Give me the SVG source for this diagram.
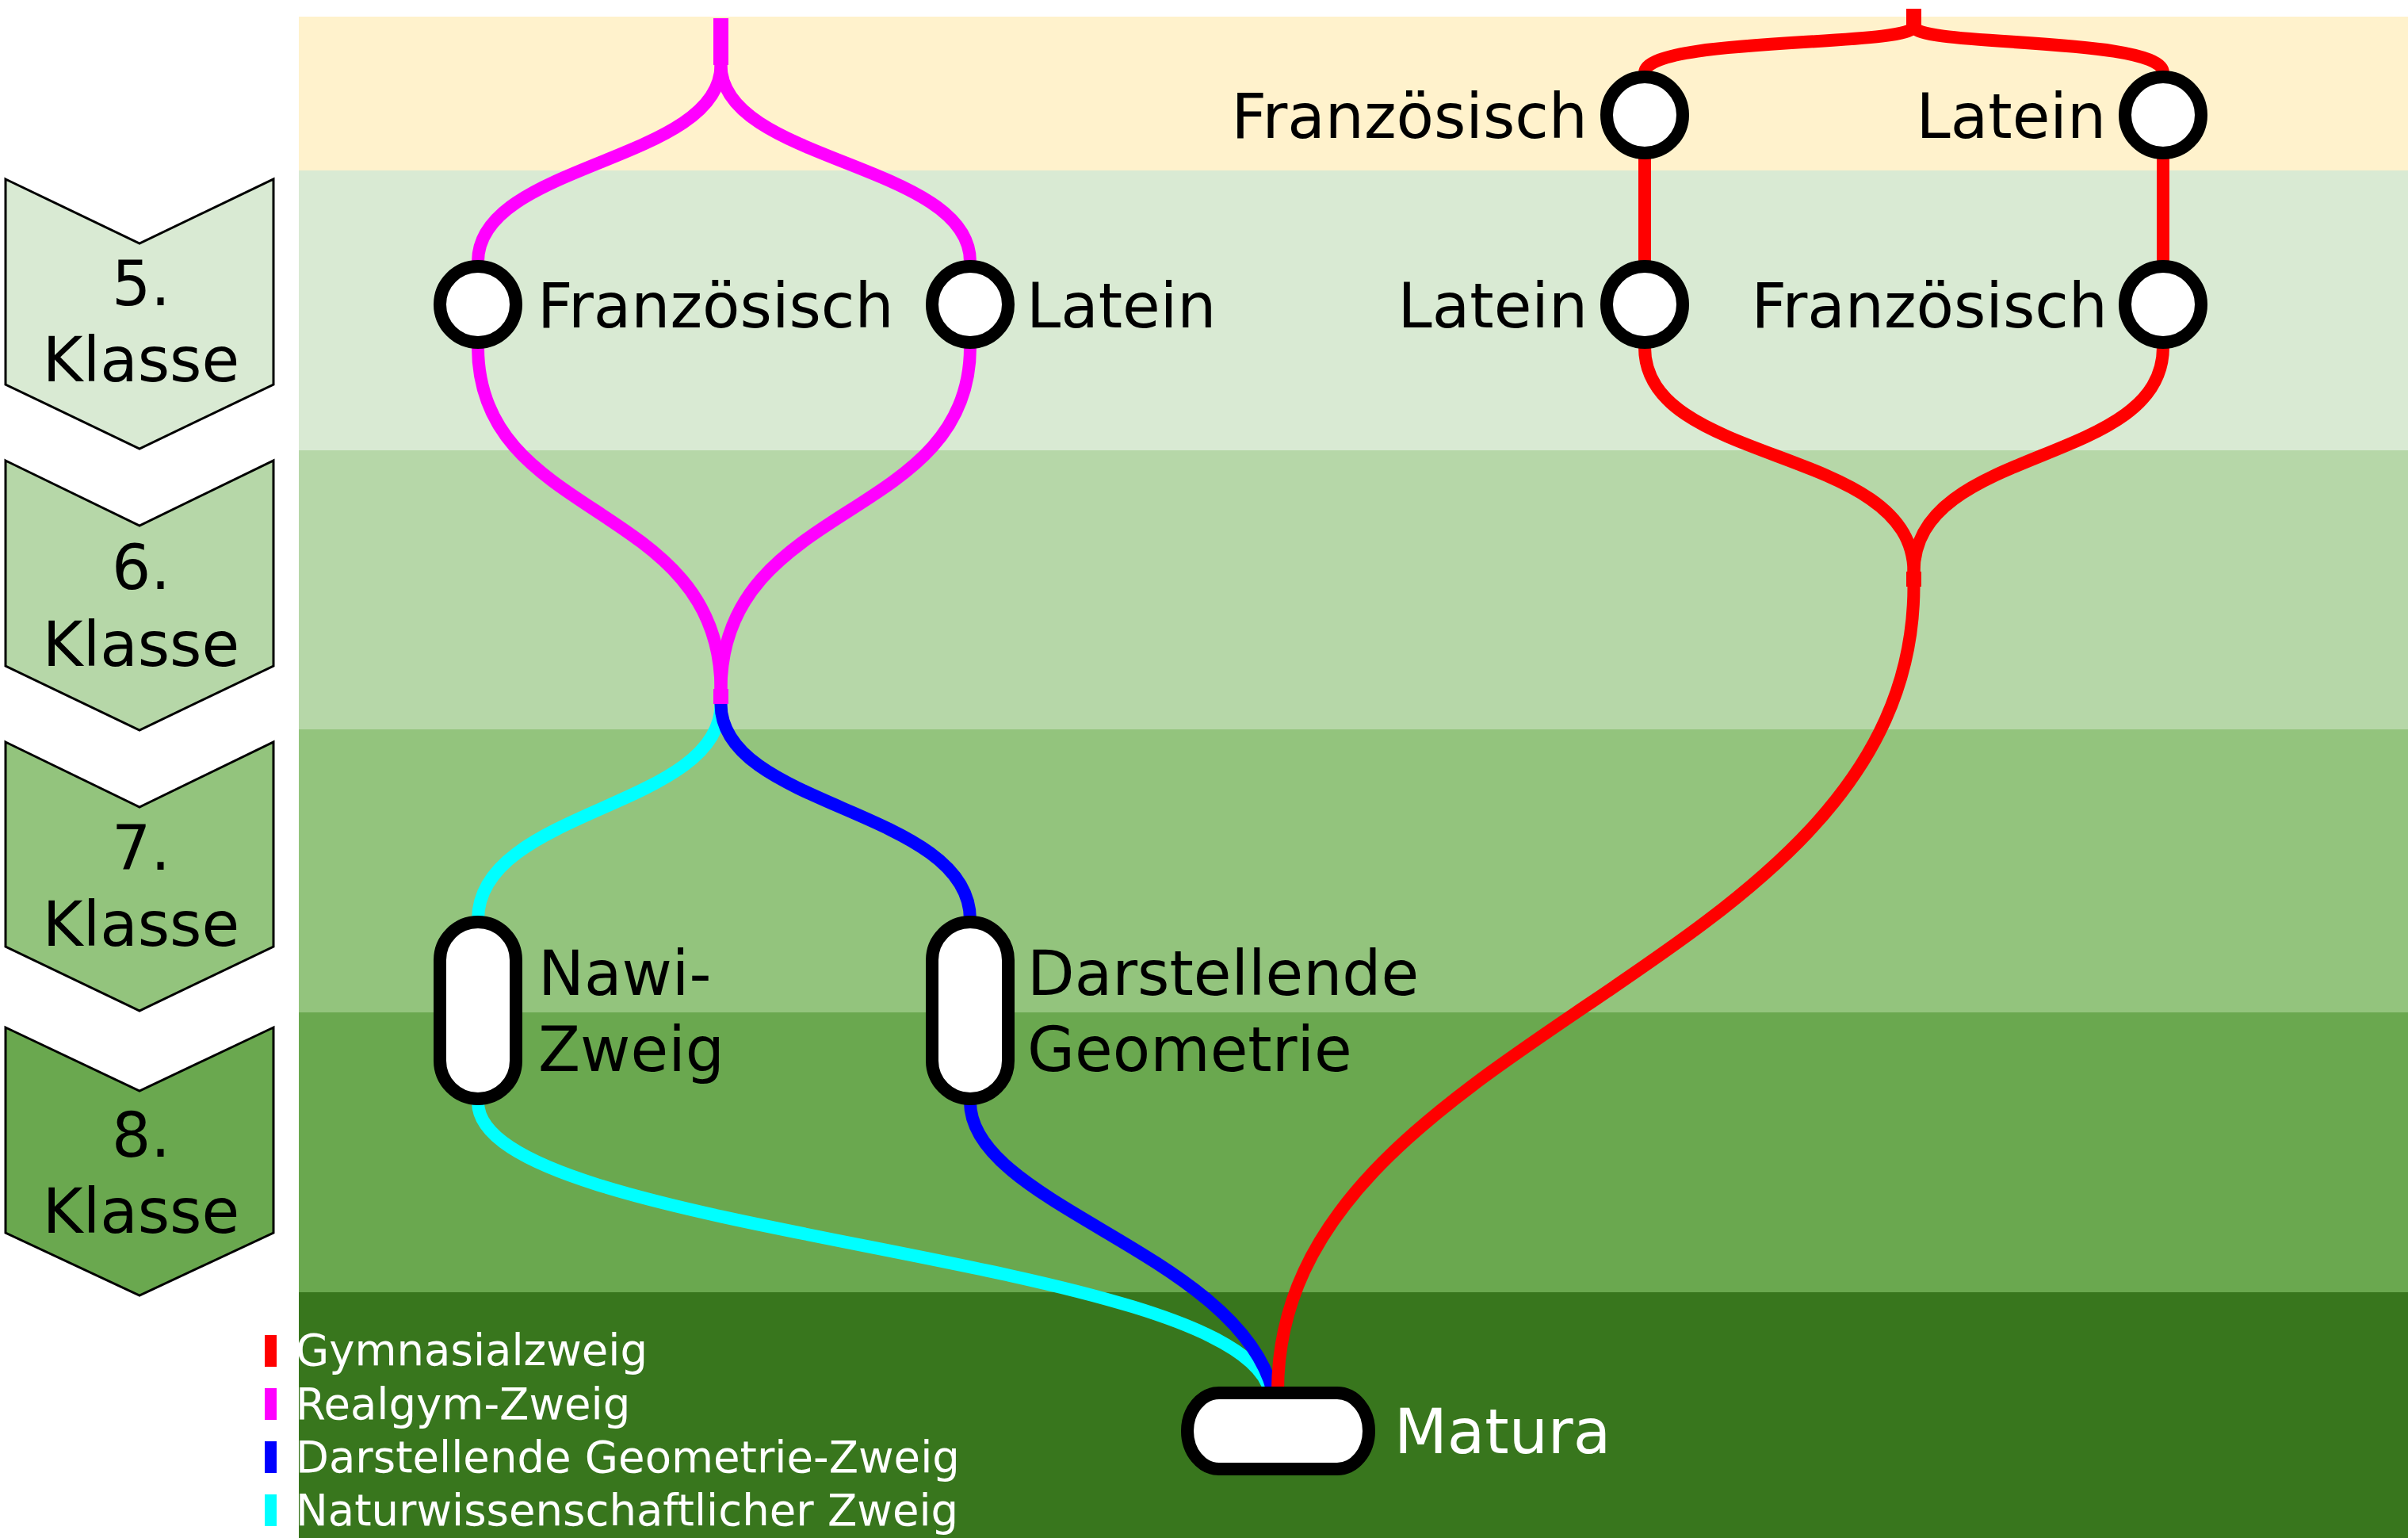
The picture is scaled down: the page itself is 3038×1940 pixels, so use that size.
<svg xmlns="http://www.w3.org/2000/svg" width="3038" height="1940" viewBox="0 0 3038 1940">
  <style>
    .lbl { font-family: "DejaVu Sans", "Liberation Sans", sans-serif; font-size: 77.5px; fill: #000; }
    .end { text-anchor: end; }
    .mid { text-anchor: middle; }
    .white { fill: #fff; }
    .leg { font-family: "DejaVu Sans", "Liberation Sans", sans-serif; font-size: 54.5px; fill: #fff; }
    .chev { stroke: #000; stroke-width: 3; stroke-linejoin: miter; }
    .ln { fill: none; stroke-width: 16; }
    .stub { fill: none; stroke-width: 19; }
    .red { stroke: #ff0000; }
    .mag { stroke: #ff00ff; }
    .blue { stroke: #0000ff; }
    .cyan { stroke: #00ffff; }
    .node { fill: #fff; stroke: #000; stroke-width: 16; }
  </style>

  <rect width="3038" height="1940" fill="#ffffff"/>

  <!-- school-year bands -->
  <g id="bands">
    <rect x="377" y="21" width="2661" height="194" fill="#fff2cc"/>
    <rect x="377" y="215" width="2661" height="353" fill="#d9ead3"/>
    <rect x="377" y="568" width="2661" height="352" fill="#b6d7a8"/>
    <rect x="377" y="920" width="2661" height="357" fill="#93c47d"/>
    <rect x="377" y="1277" width="2661" height="353" fill="#6aa84f"/>
    <rect x="377" y="1630" width="2661" height="310" fill="#38761d"/>
  </g>

  <!-- year chevrons -->
  <g id="klasse5">
    <polygon class="chev" fill="#d9ead3" points="7,226 176,307 345,226 345,485 176,566 7,485"/>
    <text class="lbl mid" x="178" y="385">5.</text>
    <text class="lbl mid" x="178" y="481">Klasse</text>
  </g>
  <g id="klasse6">
    <polygon class="chev" fill="#b6d7a8" points="7,581 176,663 345,581 345,840 176,921 7,840"/>
    <text class="lbl mid" x="178" y="743">6.</text>
    <text class="lbl mid" x="178" y="840">Klasse</text>
  </g>
  <g id="klasse7">
    <polygon class="chev" fill="#93c47d" points="7,936 176,1018 345,936 345,1194 176,1275 7,1194"/>
    <text class="lbl mid" x="178" y="1097">7.</text>
    <text class="lbl mid" x="178" y="1193">Klasse</text>
  </g>
  <g id="klasse8">
    <polygon class="chev" fill="#6aa84f" points="7,1296 176,1376 345,1296 345,1555 176,1634 7,1555"/>
    <text class="lbl mid" x="178" y="1459">8.</text>
    <text class="lbl mid" x="178" y="1555">Klasse</text>
  </g>

  <!-- connectors -->
  <g id="connectors">
    <!-- Realgymnasium -->
    <path class="stub mag" d="M909.5,23 V82"/>
    <path class="ln mag" d="M909.5,82 C909.5,205 603,205 603,330"/>
    <path class="ln mag" d="M909.5,82 C909.5,205 1224,205 1224,330"/>
    <path class="ln mag" d="M603,438 C603,660 909.5,630 909.5,870"/>
    <path class="ln mag" d="M1224,438 C1224,660 909.5,630 909.5,870"/>
    <path class="stub mag" d="M909.5,869 V888"/>
    <path class="ln cyan" d="M909.5,888 C909.5,1020 603,1020 603,1160"/>
    <path class="ln blue" d="M909.5,888 C909.5,1020 1224,1020 1224,1160"/>
    <path class="ln cyan" d="M603,1390 C603,1560 1560,1580 1602,1755"/>
    <path class="ln blue" d="M1224,1390 C1224,1520 1560,1580 1606,1755"/>

    <!-- Gymnasium -->
    <path class="stub red" d="M2414.5,11 V33"/>
    <path class="ln red" d="M2414.5,33 C2414.5,60 2075,45 2075,92"/>
    <path class="ln red" d="M2414.5,33 C2414.5,60 2729,45 2729,92"/>
    <path class="ln red" d="M2075,195 V335"/>
    <path class="ln red" d="M2729,195 V335"/>
    <path class="ln red" d="M2075,438 C2075,590 2414.5,560 2414.5,722"/>
    <path class="ln red" d="M2729,438 C2729,590 2414.5,560 2414.5,722"/>
    <path class="stub red" d="M2414.5,721 V740"/>
    <path class="ln red" d="M2414.5,739 C2414.5,1230 1612,1300 1612,1755"/>
  </g>

  <!-- stations -->
  <g id="rg-franz">
    <circle class="node" cx="603" cy="384" r="48"/>
    <text class="lbl" x="678" y="413">Französisch</text>
  </g>
  <g id="rg-latein">
    <circle class="node" cx="1224" cy="384" r="48"/>
    <text class="lbl" x="1295" y="413">Latein</text>
  </g>
  <g id="g-franz-1">
    <circle class="node" cx="2075" cy="145" r="48"/>
    <text class="lbl end" x="2003" y="174">Französisch</text>
  </g>
  <g id="g-latein-1">
    <circle class="node" cx="2729" cy="145" r="48"/>
    <text class="lbl end" x="2657" y="174">Latein</text>
  </g>
  <g id="g-latein-2">
    <circle class="node" cx="2075" cy="384" r="48"/>
    <text class="lbl end" x="2003" y="413">Latein</text>
  </g>
  <g id="g-franz-2">
    <circle class="node" cx="2729" cy="384" r="48"/>
    <text class="lbl end" x="2659" y="413">Französisch</text>
  </g>
  <g id="nawi">
    <rect class="node" x="555" y="1163" width="96" height="223" rx="48"/>
    <text class="lbl" x="679" y="1255">Nawi-</text>
    <text class="lbl" x="679" y="1351">Zweig</text>
  </g>
  <g id="dg">
    <rect class="node" x="1176" y="1163" width="96" height="223" rx="48"/>
    <text class="lbl" x="1296" y="1255">Darstellende</text>
    <text class="lbl" x="1296" y="1351">Geometrie</text>
  </g>
  <g id="matura">
    <rect class="node" x="1498" y="1757" width="229" height="96" rx="40" ry="48"/>
    <text class="lbl white" x="1759" y="1833">Matura</text>
  </g>

  <!-- legend -->
  <g id="legend">
    <rect x="334" y="1684" width="15" height="40" fill="#ff0000"/>
    <text class="leg" x="373" y="1722">Gymnasialzweig</text>
    <rect x="334" y="1751" width="15" height="40" fill="#ff00ff"/>
    <text class="leg" x="373" y="1790">Realgym-Zweig</text>
    <rect x="334" y="1818" width="15" height="40" fill="#0000ff"/>
    <text class="leg" x="373" y="1857">Darstellende Geometrie-Zweig</text>
    <rect x="334" y="1885" width="15" height="40" fill="#00ffff"/>
    <text class="leg" x="373" y="1924">Naturwissenschaftlicher Zweig</text>
  </g>
</svg>
